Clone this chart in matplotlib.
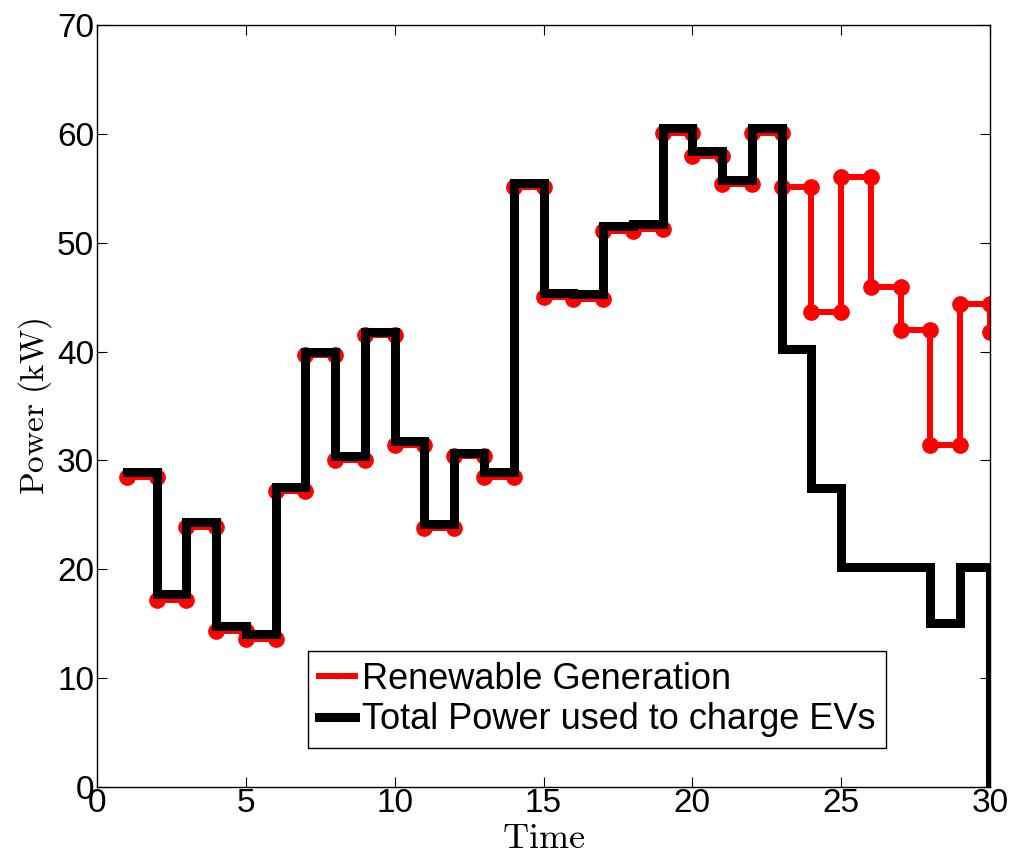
import numpy as np
import matplotlib
matplotlib.use("Agg")
import matplotlib.pyplot as plt
from matplotlib.lines import Line2D

plt.rcParams['font.family'] = ['Liberation Sans', 'DejaVu Sans']
plt.rcParams['mathtext.fontset'] = 'cm'

# Data: value at each time step t = 1..30 (held until next step)
time = np.arange(1, 31)
renewable = [28.5, 17.2, 23.9, 14.3, 13.6, 27.2, 39.7, 30.0, 41.5, 31.4,
             23.8, 30.4, 28.5, 55.1, 45.0, 44.8, 51.1, 51.3, 60.1, 58.0,
             55.4, 60.1, 55.1, 43.6, 56.0, 45.9, 42.0, 31.4, 44.4, 41.8]
ev_power = [28.9, 17.7, 24.3, 14.8, 14.1, 27.6, 40.0, 30.4, 41.8, 31.8,
            24.2, 30.7, 28.9, 55.5, 45.4, 45.3, 51.5, 51.7, 60.5, 58.4,
            55.8, 60.5, 40.2, 27.5, 20.2, 20.2, 20.2, 15.1, 20.2, 0.0]
xticks = [0, 5, 10, 15, 20, 25, 30]
yticks = [0, 10, 20, 30, 40, 50, 60, 70]
labels = ['Renewable Generation', 'Total Power used to charge EVs']


def stair(t, v):
    t = np.asarray(t, float)
    v = np.asarray(v, float)
    xs = np.repeat(t, 2)[1:]
    ys = np.repeat(v, 2)[:-1]
    return xs, ys


fig = plt.figure(figsize=(10.13, 8.57), dpi=100)
ax = fig.add_axes([0.0958, 0.0817, 0.8815, 0.8891])

rx, ry = stair(time, renewable)
bx, by = stair(time, ev_power)
ax.plot(rx, ry, color='#ff0000', lw=4.3, marker='o', ms=11,
        solid_joinstyle='miter')
ax.plot(bx, by, color='black', lw=6.5, solid_joinstyle='miter')

ax.set_xlim(0, 30)
ax.set_ylim(0, 70)
ax.set_xticks(xticks)
ax.set_yticks(yticks)
ax.tick_params(direction='in', top=True, right=True, labelsize=24,
               length=7, width=0.8)
ax.tick_params(axis='x', pad=1)
ax.tick_params(axis='y', pad=2)
for s in ax.spines.values():
    s.set_linewidth(1.0)

ax.set_xlabel(r'$\mathrm{Time}$', fontsize=26, labelpad=1)
ax.set_ylabel(r'$\mathrm{Power\ (kW)}$', fontsize=24, labelpad=2)

handles = [Line2D([], [], color='#ff0000', lw=4.3, marker='o', ms=3),
           Line2D([], [], color='black', lw=6.5)]
leg = ax.legend(handles, labels, loc='lower left',
                bbox_to_anchor=(0.236, 0.051),
                fontsize=26, numpoints=1, fancybox=False, framealpha=1,
                edgecolor='black', handlelength=1.0, borderpad=0.3,
                labelspacing=0.15, handletextpad=0.2, borderaxespad=0)
leg.get_frame().set_linewidth(1.0)

fig.savefig('out.png', dpi=100)
